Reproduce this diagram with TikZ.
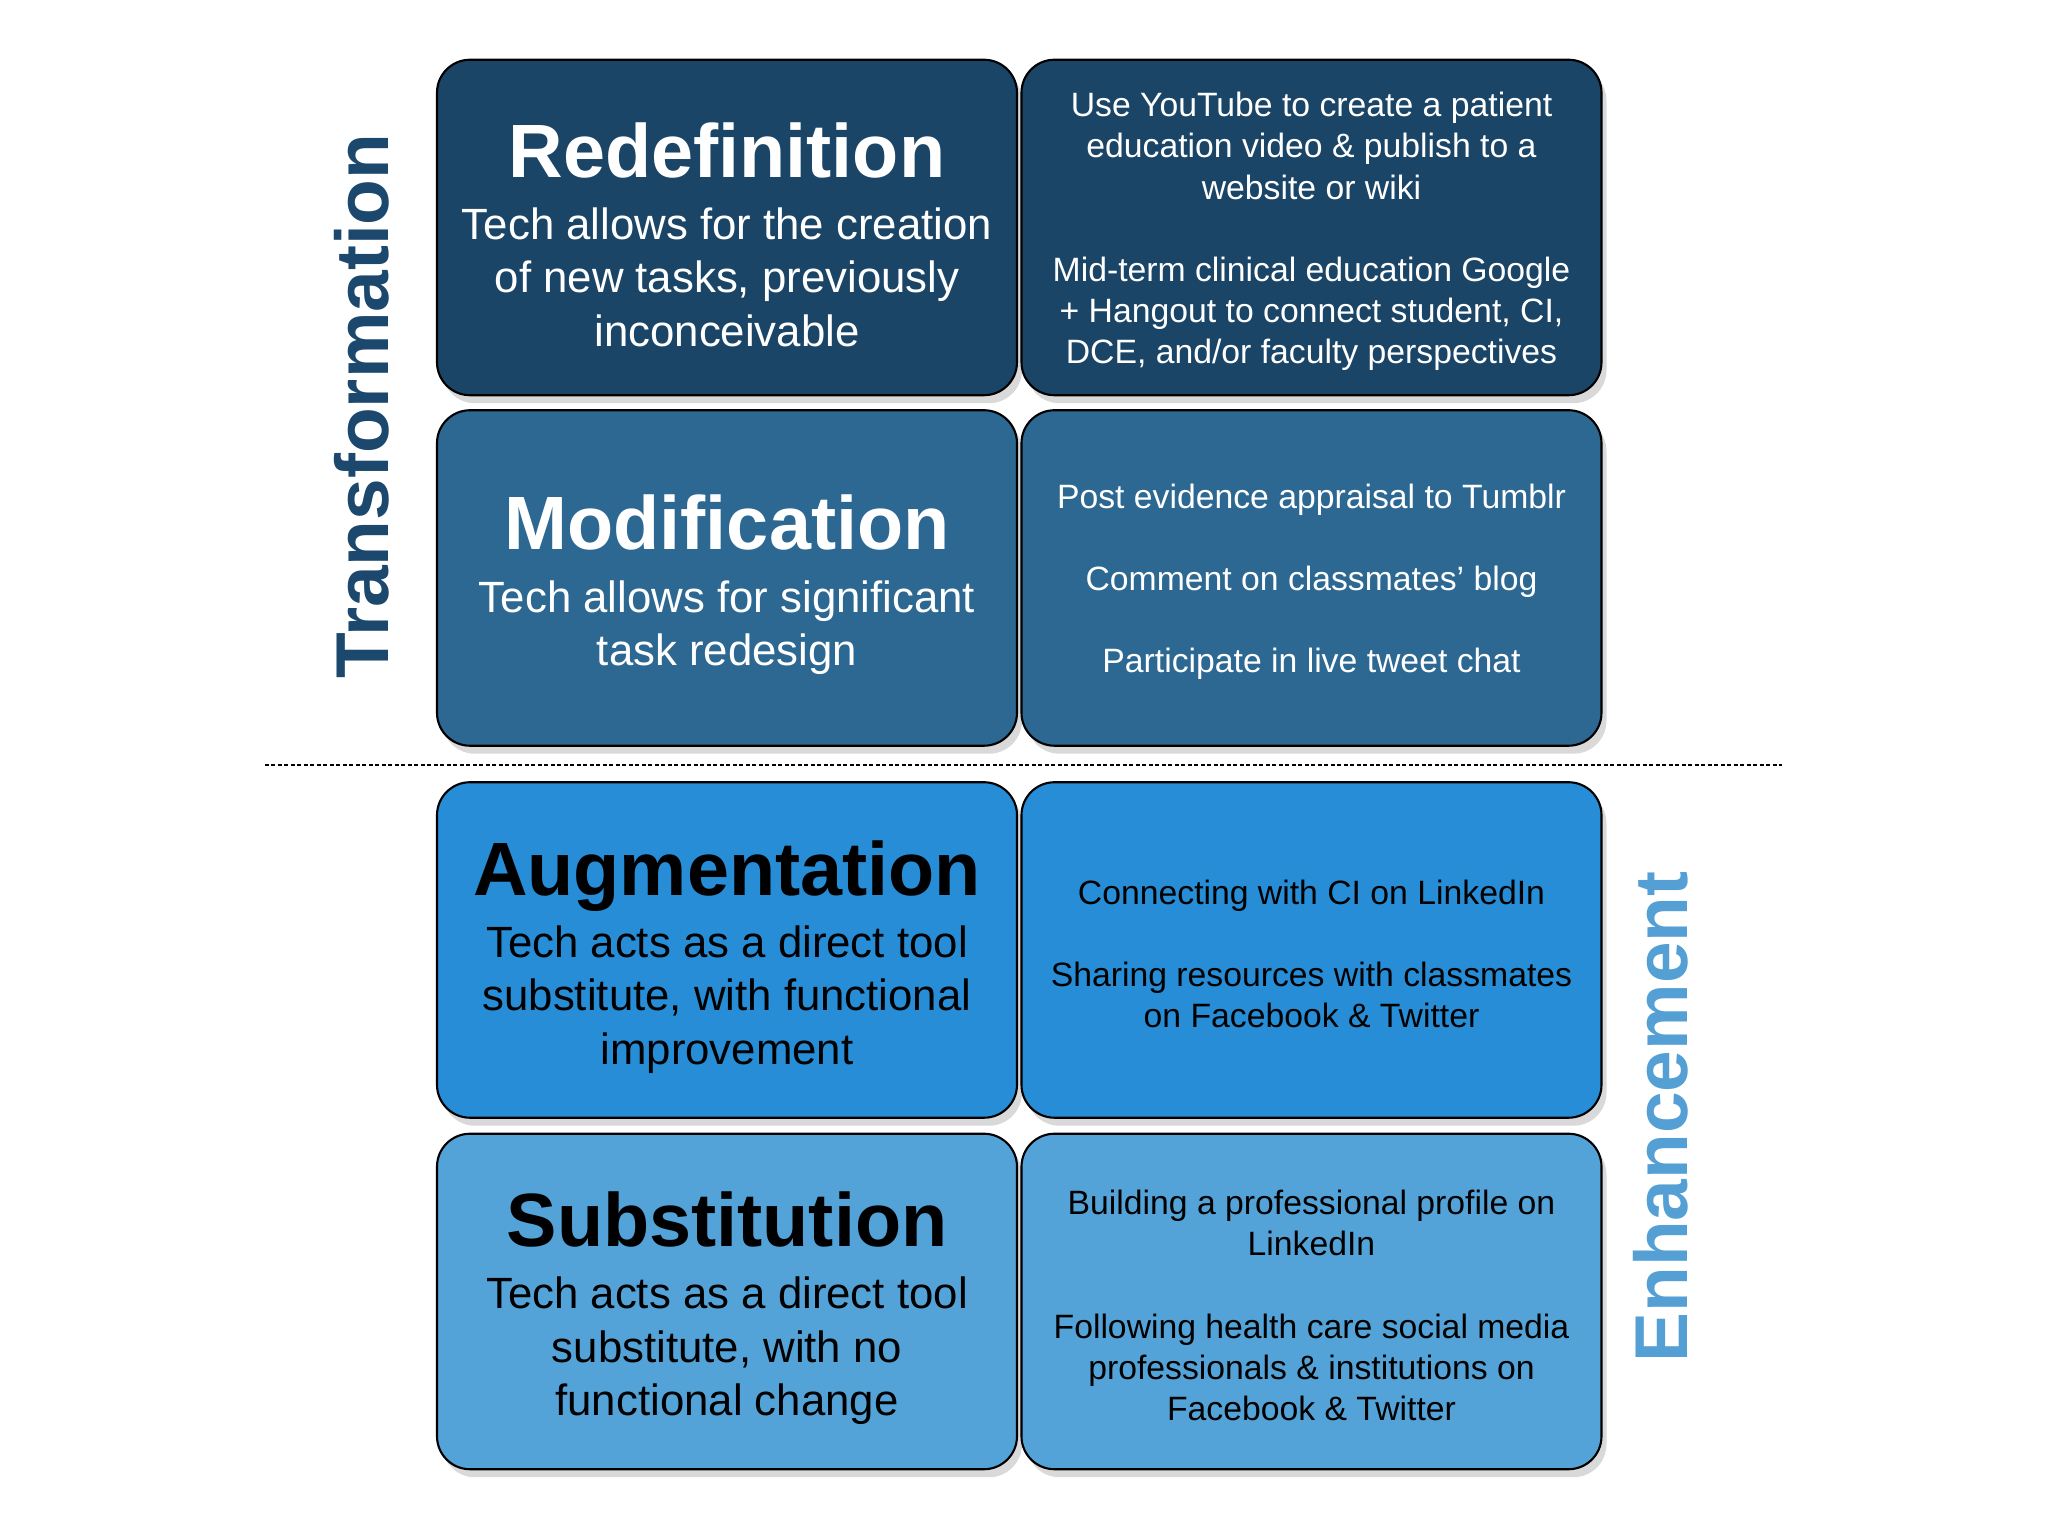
\documentclass[tikz,border=0pt]{standalone}
\usepackage{fontspec}
\setmainfont{Liberation Sans}
\usetikzlibrary{shadows}

\definecolor{redefblue}{RGB}{27,69,103}
\definecolor{modifblue}{RGB}{45,104,146}
\definecolor{augmblue}{RGB}{38,141,214}
\definecolor{substblue}{RGB}{84,163,216}
\definecolor{transblue}{RGB}{27,72,108}
\definecolor{enhanceblue}{RGB}{84,160,213}

\newcommand{\leftfont}{\fontsize{12.45}{15.2}\selectfont}
\newcommand{\rightfont}{\fontsize{9.6}{11.7}\selectfont}
\newcommand{\tiletitle}[1]{{\fontsize{21.5}{24}\selectfont\bfseries\rule{0pt}{19.5pt}#1}}
\newcommand{\firstline}{\rule{0pt}{9.2pt}}

\tikzset{
	tile/.style={shape=rectangle,draw=black,line width=0.6pt,rounded corners=0.33cm,
		minimum width=5.8cm,minimum height=3.355cm,inner sep=0pt,align=center,
		drop shadow={shadow xshift=0.05cm,shadow yshift=-0.08cm,opacity=0.3}},
	lefttile/.style={tile,font=\leftfont},
	righttile/.style={tile,font=\rightfont},
	sidelabel/.style={rotate=90,inner sep=0pt,font=\fontsize{21.3}{24}\selectfont\bfseries},
	divider/.style={line width=0.65pt,dash pattern=on 0.04cm off 0.025cm}
}

\begin{document}
\begin{tikzpicture}
	\useasboundingbox (0,0) rectangle (20.48,15.36);

	% levels
	\node[lefttile,fill=redefblue,text=white] (redef) at (7.27,13.085) {\tiletitle{Redefinition}\\[2.5pt]Tech allows for the creation\\of new tasks, previously\\inconceivable};
	\node[lefttile,fill=modifblue,text=white] (modif) at (7.27,9.58) {\tiletitle{Modification}\\[2.5pt]Tech allows for significant\\task redesign};
	\node[lefttile,fill=augmblue,text=black] (augm) at (7.27,5.86) {\tiletitle{Augmentation}\\[2.5pt]Tech acts as a direct tool\\substitute, with functional\\improvement};
	\node[lefttile,fill=substblue,text=black] (subst) at (7.27,2.345) {\tiletitle{Substitution}\\[2.5pt]Tech acts as a direct tool\\substitute, with no\\functional change};

	% examples
	\node[righttile,fill=redefblue,text=white] (redefex) at (13.115,13.085) {\firstline Use YouTube to create a patient\\education video \& publish to a\\website or wiki\\[11.7pt]Mid-term clinical education Google\\+ Hangout to connect student, CI,\\DCE, and/or faculty perspectives};
	\node[righttile,fill=modifblue,text=white] (modifex) at (13.115,9.58) {\firstline Post evidence appraisal to Tumblr\\[11.7pt]Comment on classmates' blog\\[11.7pt]Participate in live tweet chat};
	\node[righttile,fill=augmblue,text=black] (augmex) at (13.115,5.86) {\firstline Connecting with CI on LinkedIn\\[11.7pt]Sharing resources with classmates\\on Facebook \& Twitter};
	\node[righttile,fill=substblue,text=black] (substex) at (13.115,2.345) {\firstline Building a professional profile on\\LinkedIn\\[11.7pt]Following health care social media\\professionals \& institutions on\\Facebook \& Twitter};

	% sides
	\node[sidelabel,text=transblue] (trans) at (3.62,11.30) {Transformation};
	\node[sidelabel,text=enhanceblue] (enhance) at (16.61,4.19) {Enhancement};

	\coordinate (divl) at (2.65,7.71);
	\coordinate (divr) at (17.82,7.71);
	\draw[divider] (divl) -- (divr);
\end{tikzpicture}
\end{document}
